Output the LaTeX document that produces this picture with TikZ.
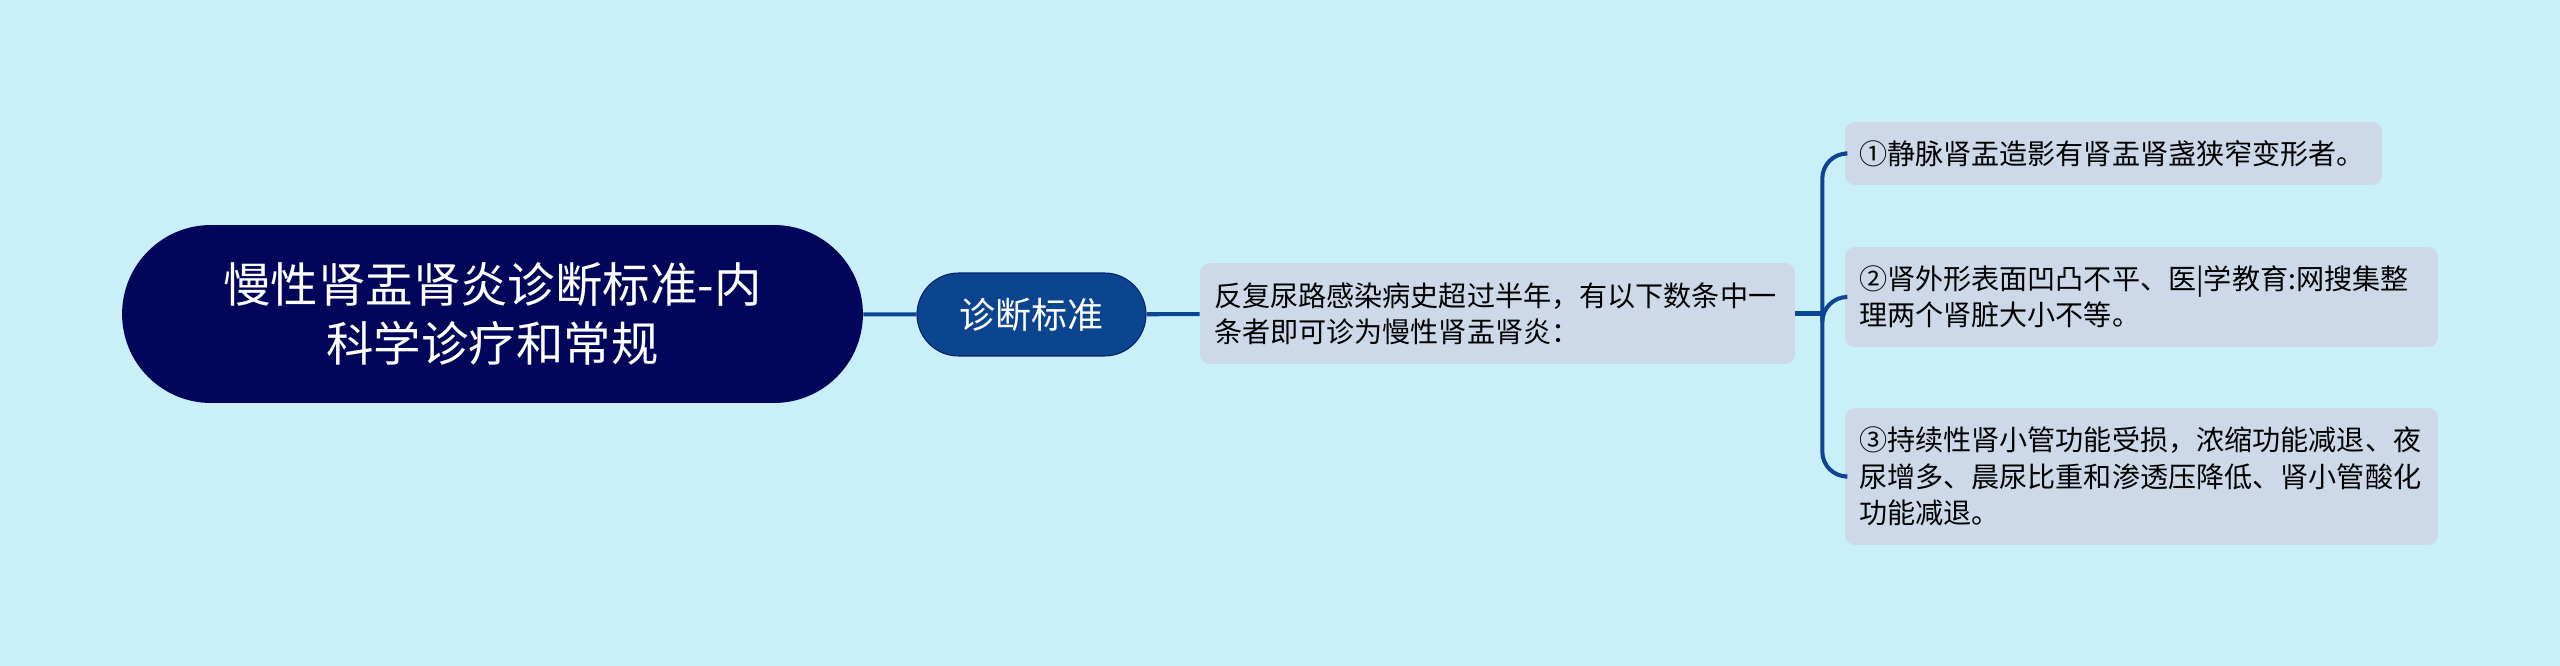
\documentclass[tikz,border=0pt]{standalone}
\usepackage{fontspec}
\setmainfont{Noto Sans CJK SC}
\definecolor{fundo}{HTML}{C9F0F8}
\definecolor{azulescuro}{HTML}{02065A}
\definecolor{azulramo}{HTML}{0B4590}
\definecolor{cinzaazul}{HTML}{CDD8E8}
\definecolor{linha}{HTML}{0C4594}

\begin{document}
\begin{tikzpicture}[x=0.02cm, y=-0.02cm,
    tema/.style={fill=azulescuro, text=white, rounded corners=1.78cm, minimum width=14.82cm,
      minimum height=3.56cm, align=center, font=\fontsize{27}{34}\selectfont},
    ramo/.style={fill=azulramo, draw=azulescuro!60!azulramo, line width=0.6pt, text=white,
      rounded corners=0.83cm, minimum width=4.58cm, minimum height=1.66cm,
      font=\fontsize{20.5}{24}\selectfont},
    folha/.style={fill=cinzaazul, rounded corners=0.2cm, inner xsep=0.28cm, align=left,
      font=\fontsize{16}{20.7}\selectfont},
    liga/.style={draw=linha, line width=2.3pt}]
  \useasboundingbox[fill=fundo] (0,0) rectangle (2560,666);

  % Tema central e ramo
  \node[tema] (tema) at (492.5,314) {慢性肾盂肾炎诊断标准-内\\科学诊疗和常规};
  \node[ramo] (ramo) at (1031.5,314.5) {诊断标准};

  % Texto principal
  \node[folha, text width=11.34cm, minimum height=2.02cm] (desc) at (1497.5,313.5)
    {反复尿路感染病史超过半年，有以下数条中一\\条者即可诊为慢性肾盂肾炎：};

  % Criterios
  \node[folha, text width=10.18cm, minimum height=1.26cm] (c1) at (2113.5,153.5)
    {①静脉肾盂造影有肾盂肾盏狭窄变形者。};
  \node[folha, text width=11.3cm, minimum height=2.0cm] (c2) at (2141.5,297)
    {②肾外形表面凹凸不平、医|学教育:网搜集整\\理两个肾脏大小不等。};
  \node[folha, text width=11.3cm, minimum height=2.74cm] (c3) at (2141.5,476.5)
    {③持续性肾小管功能受损，浓缩功能减退、夜\\尿增多、晨尿比重和渗透压降低、肾小管酸化\\功能减退。};

  % Ligacoes
  \draw[liga] (tema) -- (ramo);
  \draw[liga] (ramo) -- (desc);
  \draw[liga] (desc.east) -- ++(27,0) coordinate (garfo);
  \draw[liga, rounded corners=0.5cm] (garfo) |- (c1.west);
  \draw[liga, rounded corners=0.5cm] (garfo) |- (c2.west);
  \draw[liga, rounded corners=0.5cm] (garfo) |- (c3.west);
\end{tikzpicture}
\end{document}
